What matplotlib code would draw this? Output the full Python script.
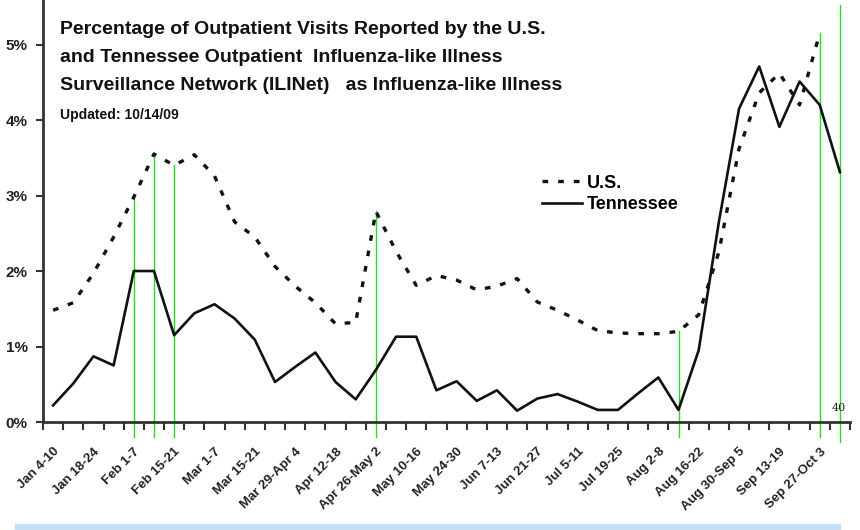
import matplotlib
matplotlib.use("Agg")
import matplotlib.pyplot as plt
from matplotlib.lines import Line2D
from matplotlib.patches import Rectangle

# ---------------- data ----------------
week_labels = ["Jan 4-10", "Jan 18-24", "Feb 1-7", "Feb 15-21", "Mar 1-7",
               "Mar 15-21", "Mar 29-Apr 4", "Apr 12-18", "Apr 26-May 2",
               "May 10-16", "May 24-30", "Jun 7-13", "Jun 21-27", "Jul 5-11",
               "Jul 19-25", "Aug 2-8", "Aug 16-22", "Aug 30-Sep 5",
               "Sep 13-19", "Sep 27-Oct 3"]
n_weeks = 40

us_values = [1.48, 1.58, 1.97, 2.45, 2.98, 3.55, 3.40, 3.54, 3.26, 2.65,
             2.45, 2.06, 1.80, 1.58, 1.30, 1.32, 2.79, 2.26, 1.81, 1.94,
             1.88, 1.75, 1.80, 1.90, 1.59, 1.48, 1.35, 1.21, 1.18, 1.17,
             1.17, 1.20, 1.42, 2.25, 3.62, 4.36, 4.62, 4.20, 5.15]

tn_values = [0.22, 0.51, 0.87, 0.75, 2.00, 2.00, 1.15, 1.44, 1.56, 1.37,
             1.09, 0.53, 0.73, 0.92, 0.53, 0.30, 0.69, 1.13, 1.13, 0.42,
             0.54, 0.28, 0.42, 0.15, 0.31, 0.37, 0.27, 0.16, 0.16, 0.38,
             0.59, 0.16, 0.95, 2.65, 4.15, 4.71, 3.91, 4.51, 4.20, 3.31]

green_weeks = [4, 5, 6, 16, 31, 38]   # green markers topped at the U.S. value
green_full_week = 39                  # green marker running to the top

yticks = [0, 1, 2, 3, 4, 5]
ytick_labels = ["0%", "1%", "2%", "3%", "4%", "5%"]

title_lines = ["Percentage of Outpatient Visits Reported by the U.S.",
               "and Tennessee Outpatient  Influenza-like Illness",
               "Surveillance Network (ILINet)   as Influenza-like Illness"]
updated_text = "Updated: 10/14/09"

# ---------------- figure ----------------
plt.rcParams["font.family"] = ["Liberation Sans", "DejaVu Sans"]

fig = plt.figure(figsize=(8.6, 5.3), dpi=100)
ax = fig.add_axes([43 / 860, 108 / 530, 807 / 860, 422 / 530])

x_us = list(range(len(us_values)))
x_tn = list(range(len(tn_values)))

ax.plot(x_us, us_values, color="#111111", lw=2.4, dashes=(1.7, 3.0),
        dash_capstyle="butt")
ax.plot(x_tn, tn_values, color="#111111", lw=1.9)

ax.set_xlim(-0.5, n_weeks - 0.5)
ax.set_ylim(0, 5.59)

# green annotation lines
green = "#22dd22"
for w in green_weeks:
    ax.plot([w, w], [-0.2, us_values[w]], color=green, lw=1.0, clip_on=False, zorder=1)
ax.plot([green_full_week, green_full_week], [-0.27, 5.52], color=green, lw=1.0,
        clip_on=False, zorder=1)
ax.text(green_full_week - 0.05, 0.12, "40", fontsize=8, family="DejaVu Serif",
        color="#222222", ha="center", va="bottom")

# spines
for s in ["top", "right"]:
    ax.spines[s].set_visible(False)
for s in ["left", "bottom"]:
    ax.spines[s].set_linewidth(2.0)
    ax.spines[s].set_color("#333333")

# x ticks: marks at category boundaries, labels every two weeks
ax.set_xticks([k - 0.5 for k in range(n_weeks + 1)], minor=True)
ax.set_xticks(list(range(0, n_weeks, 2)))
ax.set_xticklabels(week_labels, rotation=45, ha="right", va="top",
                   rotation_mode="anchor", fontsize=9.5, fontweight="bold",
                   color="#222222")
ax.tick_params(axis="x", which="major", length=0, pad=17)
ax.tick_params(axis="x", which="minor", length=6, width=1.5, direction="out",
               color="#333333")
ax.set_yticks(yticks)
ax.set_yticklabels(ytick_labels, fontsize=11, fontweight="bold", color="#222222")
ax.tick_params(axis="y", length=5, width=1.5, color="#333333", pad=6)

# legend
handles = [Line2D([], [], color="#111111", lw=2.4, dashes=(1.7, 3.0)),
           Line2D([], [], color="#111111", lw=1.9)]
ax.legend(handles, ["U.S.", "Tennessee"], loc="upper left",
          bbox_to_anchor=(0.598, 0.625), frameon=False, handlelength=2.2,
          handletextpad=0.3, labelspacing=0.25,
          prop={"weight": "bold", "size": 13})

# title
ys = [34, 62, 90]
for t, y in zip(title_lines, ys):
    fig.text(60 / 860, 1 - y / 530, t, fontsize=14, fontweight="bold",
             color="#111111", va="baseline", ha="left")
fig.text(60 / 860, 1 - 119 / 530, updated_text, fontsize=10, fontweight="bold",
         color="#111111", va="baseline", ha="left")

# footer strip
fig.patches.append(Rectangle((15 / 860, 0), 825 / 860, 6 / 530,
                             transform=fig.transFigure, color="#c6e0f5", zorder=0))

fig.savefig("out.png", dpi=100)
